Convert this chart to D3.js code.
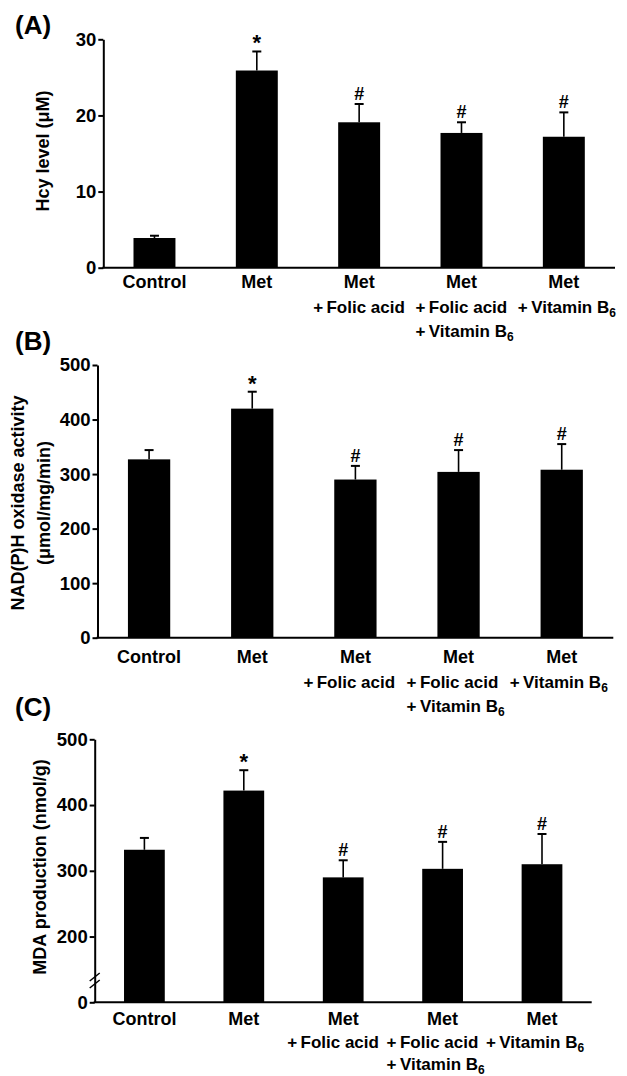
<!DOCTYPE html>
<html>
<head>
<meta charset="utf-8">
<script src="https://cdn.jsdelivr.net/npm/d3@7"></script>
<style>
body { margin: 0; background: #fff; }
text { font-family: "Liberation Sans", Arial, Helvetica, sans-serif; font-weight: bold; fill: #000; }
</style>
</head>
<body>
<script>
// group labels, one entry per line ("_" marks a subscript)
var categories = [
  ['Control'],
  ['Met'],
  ['Met', '+\u2009Folic acid'],
  ['Met', '+\u2009Folic acid', '+\u2009Vitamin B_6'],
  ['Met', '+\u2009Vitamin B_6']
];
var marks = ['', '*', '#', '#', '#'];

var hcyMean = [3.9, 25.9, 19.1, 17.7, 17.2];
var hcySD = [0.3, 2.5, 2.4, 1.4, 3.2];
var hcyTicks = [0, 10, 20, 30];

var noxMean = [327, 420, 290, 304, 308];
var noxSD = [17, 31, 25, 40, 47];
var noxTicks = [0, 100, 200, 300, 400, 500];

var mdaMean = [332, 422, 290, 303, 310];
var mdaSD = [18, 31, 26, 41, 46];
var mdaTicks = [100, 200, 300, 400, 500];
var mdaTickLabels = ['0', '200', '300', '400', '500'];

var panels = [
  {letter: '(A)', letterY: 34, x0: 103.3, x1: 615, top: 39.3, base: 267.7,
   domain: [0, 30], ticks: hcyTicks, tickLabels: null, mean: hcyMean, sd: hcySD,
   title: ['Hcy level (\u03bcM)'], titleX: [49], titleY: 151,
   labelY: [288, 312.5, 336.5], plusShift: 46, axisBreak: false},
  {letter: '(B)', letterY: 350, x0: 97.5, x1: 613.3, top: 365, base: 637.7,
   domain: [0, 500], ticks: noxTicks, tickLabels: null, mean: noxMean, sd: noxSD,
   title: ['NAD(P)H oxidase activity', '(\u03bcmol/mg/min)'], titleX: [24, 50], titleY: 503,
   labelY: [663, 688, 711.5], plusShift: 52, axisBreak: false},
  {letter: '(C)', letterY: 716, x0: 94.7, x1: 591.7, top: 739.3, base: 1002.3,
   domain: [100, 500], ticks: mdaTicks, tickLabels: mdaTickLabels, mean: mdaMean, sd: mdaSD,
   title: ['MDA production (nmol/g)'], titleX: [45.5], titleY: 867,
   labelY: [1025, 1048, 1070], plusShift: 56, axisBreak: true}
];

var svg = d3.select('body').append('svg')
  .attr('width', 627)
  .attr('height', 1076);

function writeLine(sel, str) {
  var parts = str.split('_');
  sel.append('tspan').text(parts[0]);
  if (parts.length > 1) {
    sel.append('tspan')
      .attr('dy', 4)
      .style('font-size', '12px')
      .text(parts[1]);
  }
}

panels.forEach(function(p) {
  var g = svg.append('g');

  var x = d3.scaleBand()
    .domain(d3.range(categories.length))
    .range([p.x0, p.x1])
    .paddingInner(0.59)
    .paddingOuter(0.295);

  var y = d3.scaleLinear()
    .domain(p.domain)
    .range([p.base, p.top]);

  // bars
  g.selectAll('.bar')
    .data(p.mean)
    .enter()
    .append('rect')
    .attr('class', 'bar')
    .attr('x', function(d, i) { return x(i); })
    .attr('y', function(d) { return y(d); })
    .attr('width', x.bandwidth())
    .attr('height', function(d) { return y(p.domain[0]) - y(d); })
    .style('fill', '#000');

  // upper error bars
  var cx = function(i) { return x(i) + x.bandwidth() / 2; };
  g.selectAll('.err')
    .data(p.mean)
    .enter()
    .append('line')
    .attr('x1', function(d, i) { return cx(i); })
    .attr('x2', function(d, i) { return cx(i); })
    .attr('y1', function(d) { return y(d); })
    .attr('y2', function(d, i) { return y(d + p.sd[i]); })
    .style('stroke', '#000')
    .style('stroke-width', 1.6);

  g.selectAll('.cap')
    .data(p.mean)
    .enter()
    .append('line')
    .attr('x1', function(d, i) { return cx(i) - 4.5; })
    .attr('x2', function(d, i) { return cx(i) + 4.5; })
    .attr('y1', function(d, i) { return y(d + p.sd[i]); })
    .attr('y2', function(d, i) { return y(d + p.sd[i]); })
    .style('stroke', '#000')
    .style('stroke-width', 2);

  g.selectAll('.mark')
    .data(marks)
    .enter()
    .append('text')
    .attr('x', function(d, i) { return cx(i); })
    .attr('y', function(d, i) { return y(p.mean[i] + p.sd[i]) - (d === '*' ? 1 : 4); })
    .attr('text-anchor', 'middle')
    .style('font-size', function(d) { return d === '*' ? '22px' : '18px'; })
    .text(function(d) { return d; });

  // axes
  var yAxis = d3.axisLeft(y)
    .tickValues(p.ticks)
    .tickSize(5)
    .tickSizeOuter(0)
    .tickPadding(2)
    .tickFormat(function(d, i) { return p.tickLabels ? p.tickLabels[i] : d; });

  var ya = g.append('g')
    .attr('transform', 'translate(' + p.x0 + ',0)')
    .call(yAxis);
  ya.selectAll('path, line').style('stroke', '#000').style('stroke-width', 2);
  ya.selectAll('text').style('font-size', '18.5px').style('font-family', null);

  var xa = g.append('g')
    .attr('transform', 'translate(0,' + p.base + ')')
    .call(d3.axisBottom(x).tickSize(0).tickSizeOuter(0).tickFormat(''));
  xa.select('path').attr('d', 'M' + (p.x0 - 1) + ',0H' + p.x1)
    .style('stroke', '#000').style('stroke-width', 2);

  if (p.axisBreak) {
    [977, 984].forEach(function(by) {
      g.append('line')
        .attr('x1', p.x0 - 5).attr('y1', by + 4)
        .attr('x2', p.x0 + 5).attr('y2', by - 4)
        .style('stroke', '#000')
        .style('stroke-width', 1.5);
    });
  }

  // category labels
  categories.forEach(function(lines, i) {
    lines.forEach(function(line, j) {
      var t = g.append('text')
        .attr('y', p.labelY[j]);
      if (j === 0) {
        t.attr('x', cx(i)).attr('text-anchor', 'middle').style('font-size', '18px');
      } else {
        t.attr('x', cx(i) - p.plusShift).attr('text-anchor', 'start').style('font-size', '17px');
      }
      writeLine(t, line);
    });
  });

  // y title
  p.title.forEach(function(line, j) {
    g.append('text')
      .attr('transform', 'translate(' + p.titleX[j] + ',' + p.titleY + ') rotate(-90)')
      .attr('text-anchor', 'middle')
      .style('font-size', '18px')
      .text(line);
  });

  g.append('text')
    .attr('x', 15)
    .attr('y', p.letterY)
    .style('font-size', '26px')
    .text(p.letter);
});
</script>
</body>
</html>
